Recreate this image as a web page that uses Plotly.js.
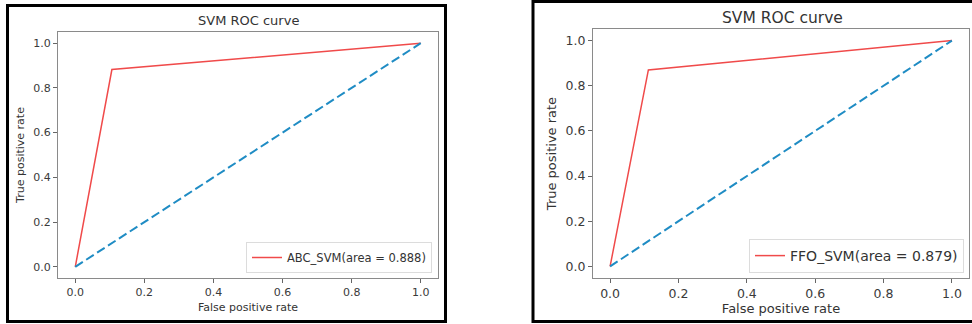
<!DOCTYPE html>
<html>
<head>
<meta charset="utf-8">
<script src="https://cdn.plot.ly/plotly-3.0.1.min.js"></script>
<style>
html,body{margin:0;padding:0;background:#fff;}
#chart{width:972px;height:324px;}
</style>
</head>
<body>
<div id="chart"></div>
<script>
// ---- data ----
const fprABC = [0, 0.106, 1];
const tprABC = [0, 0.882, 1];
const fprFFO = [0, 0.112, 1];
const tprFFO = [0, 0.870, 1];
const diagX = [0, 1];
const diagY = [0, 1];
const nameABC = 'ABC_SVM(area = 0.888)';
const nameFFO = 'FFO_SVM(area = 0.879)';
const tickVals = [0, 0.2, 0.4, 0.6, 0.8, 1.0];
const tickText = ['0.0', '0.2', '0.4', '0.6', '0.8', '1.0'];
const panelTitle = 'SVM ROC curve';
const xLabel = 'False positive rate';
const yLabel = 'True positive rate';

const W = 972, H = 324;
const px = v => v / W;
const py = v => 1 - v / H;

const red = '#f04a4a';
const blue = '#1f8cc4';
const FONT = 'DejaVu Sans, sans-serif';

const traces = [
  {x: fprABC, y: tprABC, type: 'scatter', mode: 'lines', name: nameABC,
   line: {color: red, width: 1.5}, xaxis: 'x', yaxis: 'y', legend: 'legend'},
  {x: diagX, y: diagY, type: 'scatter', mode: 'lines', showlegend: false,
   line: {color: blue, width: 2, dash: '9px,4px'}, xaxis: 'x', yaxis: 'y'},
  {x: fprFFO, y: tprFFO, type: 'scatter', mode: 'lines', name: nameFFO,
   line: {color: red, width: 1.5}, xaxis: 'x2', yaxis: 'y2', legend: 'legend2'},
  {x: diagX, y: diagY, type: 'scatter', mode: 'lines', showlegend: false,
   line: {color: blue, width: 2, dash: '9px,4px'}, xaxis: 'x2', yaxis: 'y2'}
];

function axis(domain, fs, anchor) {
  return {
    domain: domain, anchor: anchor, range: [-0.05, 1.05],
    showgrid: false, zeroline: false, showline: true, mirror: true,
    linecolor: '#8a8a8a', linewidth: 1,
    ticks: 'outside', ticklen: 4, tickwidth: 1, tickcolor: '#666',
    tickvals: tickVals, ticktext: tickText,
    tickfont: {family: FONT, size: fs, color: '#3a3a3a'},
    fixedrange: true
  };
}

const xa1 = axis([px(58), px(438)], 11, 'y');
xa1.title = {text: xLabel, font: {family: FONT, size: 11, color: '#333'}, standoff: 5};
const ya1 = axis([py(278), py(32)], 11, 'x');
ya1.title = {text: yLabel, font: {family: FONT, size: 11, color: '#333'}, standoff: 6};

const xa2 = axis([px(593), px(969)], 12.5, 'y2');
xa2.title = {text: xLabel, font: {family: FONT, size: 13, color: '#333'}, standoff: 3};
const ya2 = axis([py(277.7), py(29.3)], 12.5, 'x2');
ya2.title = {text: yLabel, font: {family: FONT, size: 13, color: '#333'}, standoff: 6};

const layout = {
  width: W, height: H,
  margin: {l: 0, r: 0, t: 0, b: 0, pad: 0},
  paper_bgcolor: '#fff', plot_bgcolor: '#fff',
  font: {family: FONT, color: '#333'},
  xaxis: xa1, yaxis: ya1, xaxis2: xa2, yaxis2: ya2,
  legend: {
    x: px(432), y: py(273), xanchor: 'right', yanchor: 'bottom',
    bgcolor: '#fff', bordercolor: '#dcdcdc', borderwidth: 1,
    font: {family: FONT, size: 11.5, color: '#333'},
    tracegroupgap: 0
  },
  legend2: {
    x: px(964), y: py(273), xanchor: 'right', yanchor: 'bottom',
    bgcolor: '#fff', bordercolor: '#dcdcdc', borderwidth: 1,
    font: {family: FONT, size: 14, color: '#333'},
    tracegroupgap: 0
  },
  annotations: [
    {text: panelTitle, xref: 'paper', yref: 'paper', x: px(248), y: py(21),
     xanchor: 'center', yanchor: 'middle', showarrow: false,
     font: {family: FONT, size: 13, color: '#333'}},
    {text: panelTitle, xref: 'paper', yref: 'paper', x: px(782), y: py(18),
     xanchor: 'center', yanchor: 'middle', showarrow: false,
     font: {family: FONT, size: 15.5, color: '#333'}}
  ],
  shapes: [
    {type: 'rect', xref: 'paper', yref: 'paper',
     x0: px(7.5), x1: px(445.5), y0: py(321.5), y1: py(5.5),
     line: {color: '#000', width: 3}},
    {type: 'rect', xref: 'paper', yref: 'paper',
     x0: px(533), x1: px(985), y0: py(321.5), y1: py(1.5),
     line: {color: '#000', width: 3}}
  ],
  showlegend: true
};

Plotly.newPlot('chart', traces, layout, {staticPlot: true, displayModeBar: false});
</script>
</body>
</html>
